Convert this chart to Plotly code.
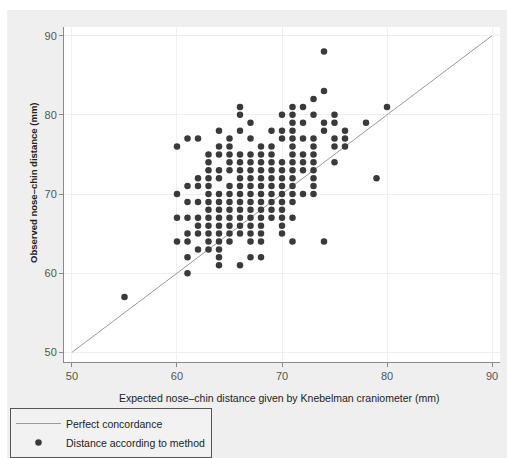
import plotly.graph_objects as go

obs_55 = [57]
obs_60 = [76, 70, 67, 64]
obs_61 = [77, 71, 69, 67, 65, 64, 62, 60]
obs_62 = [77, 72, 71, 69, 67, 66, 65, 63]
obs_63 = [75, 74, 73, 72, 71, 70, 69, 68, 67, 66, 65, 64, 63]
obs_64 = [78, 76, 75, 73, 72, 70, 69, 68, 67, 66, 65, 64, 63, 62, 61]
obs_65 = [77, 76, 75, 74, 73, 71, 70, 69, 68, 67, 66, 65, 64]
obs_66 = [81, 80, 78, 75, 74, 73, 72, 71, 70, 69, 68, 67, 66, 65, 61]
obs_67 = [79, 77, 75, 74, 73, 72, 71, 70, 69, 68, 67, 66, 65, 64, 62]
obs_68 = [76, 75, 74, 73, 72, 71, 70, 69, 68, 67, 66, 65, 64, 62]
obs_69 = [78, 76, 75, 74, 73, 72, 71, 70, 69, 68, 67]
obs_70 = [80, 78, 77, 74, 73, 72, 71, 70, 69, 68, 67, 66, 65]
obs_71 = [81, 80, 79, 78, 77, 76, 75, 74, 73, 72, 71, 70, 69, 67, 64]
obs_72 = [81, 79, 77, 75, 74, 73, 70]
obs_73 = [82, 80, 77, 76, 75, 74, 73, 72, 71, 70]
obs_74 = [88, 83, 79, 78, 64]
obs_75 = [80, 79, 77, 76, 74]
obs_76 = [78, 77, 76]
obs_78 = [79]
obs_79 = [72]
obs_80 = [81]

columns = {
    55: obs_55, 60: obs_60, 61: obs_61, 62: obs_62, 63: obs_63, 64: obs_64,
    65: obs_65, 66: obs_66, 67: obs_67, 68: obs_68, 69: obs_69, 70: obs_70,
    71: obs_71, 72: obs_72, 73: obs_73, 74: obs_74, 75: obs_75, 76: obs_76,
    78: obs_78, 79: obs_79, 80: obs_80,
}

line_x = [50, 90]
line_y = [50, 90]

x_ticks = [50, 60, 70, 80, 90]
y_ticks = [50, 60, 70, 80, 90]

xs, ys = [], []
for k, vals in columns.items():
    for v in vals:
        xs.append(k)
        ys.append(v)

fig = go.Figure()
fig.add_trace(go.Scatter(
    x=line_x, y=line_y, mode="lines", name="Perfect concordance",
    line=dict(color="#9a9a9a", width=1),
))
fig.add_trace(go.Scatter(
    x=xs, y=ys, mode="markers", name="Distance according to method",
    marker=dict(color="#3a3a3a", size=6.5, line=dict(width=0)),
))

axis_common = dict(
    showgrid=True, gridcolor="#efefef", gridwidth=1,
    showline=True, linecolor="#8a8a8a", linewidth=1,
    ticks="outside", ticklen=4, tickcolor="#8a8a8a",
    tickfont=dict(family="Liberation Sans, Arial", size=11, color="#555555"),
    zeroline=False,
)

fig.update_layout(
    width=507, height=458,
    margin=dict(l=64, r=7, t=27, b=96, autoexpand=False),
    paper_bgcolor="#efefef",
    plot_bgcolor="#ffffff",
    showlegend=True,
    legend=dict(
        x=-0.1239, y=(362 - 458) / 335, xanchor="left", yanchor="bottom",
        bgcolor="#f2f2f2", bordercolor="#555555", borderwidth=1,
        font=dict(family="Liberation Sans, Arial", size=10.5, color="#222222"),
        itemwidth=45, tracegroupgap=0,
    ),
    xaxis=dict(range=[49.24, 90.76], tickvals=x_ticks, **axis_common),
    yaxis=dict(range=[48.78, 91.1], tickvals=y_ticks, **axis_common),
    shapes=[
        dict(type="rect", xref="paper", yref="paper", x0=-0.2, x1=1.1,
             y0=1.0507, y1=1.2, fillcolor="#ffffff", line=dict(width=0), layer="below"),
        dict(type="rect", xref="paper", yref="paper", x0=-0.2, x1=-0.1307,
             y0=-0.4, y1=1.2, fillcolor="#ffffff", line=dict(width=0), layer="below"),
    ],
    annotations=[
        dict(text="Expected nose\u2013chin distance given by Knebelman craniometer (mm)",
             xref="paper", yref="paper", x=(279 - 64) / 436, y=(362 - 398) / 335,
             xanchor="center", yanchor="middle", showarrow=False,
             font=dict(family="Liberation Sans, Arial", size=10.5, color="#222222")),
        dict(text="<b>Observed nose\u2013chin distance (mm)</b>",
             xref="paper", yref="paper", x=(33 - 64) / 436, y=(362 - 183) / 335,
             xanchor="center", yanchor="middle", showarrow=False, textangle=-90,
             font=dict(family="Liberation Sans, Arial", size=9.5, color="#222222")),
    ],
)

fig.write_html("out.html")
